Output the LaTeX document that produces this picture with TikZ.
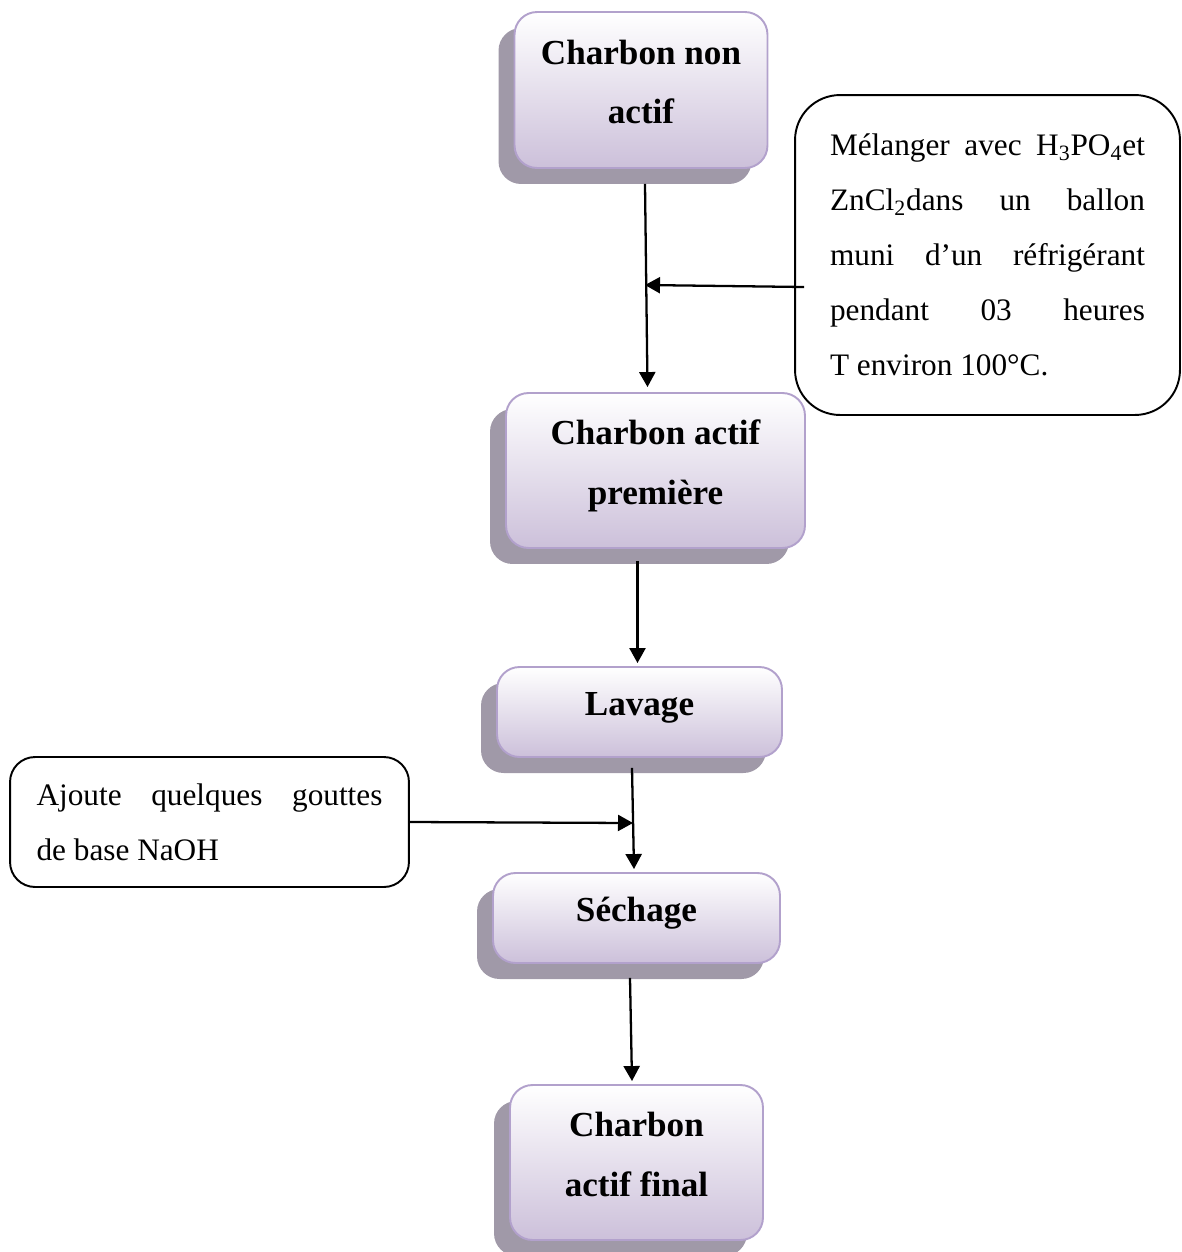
\documentclass[tikz,border=0pt]{standalone}
\usepackage{fontspec}
\setmainfont{Liberation Serif}
\usetikzlibrary{arrows.meta,shadows}
\definecolor{lavfill}{RGB}{204,192,218}
\definecolor{lavline}{RGB}{178,161,204}
\definecolor{shadowgray}{RGB}{160,153,168}
\begin{document}
\begin{tikzpicture}[x=0.02cm,y=-0.02cm,
  stepbox/.style={rectangle,rounded corners=0.45cm,draw=lavline,line width=1.1pt,
    top color=white,bottom color=lavfill,
    drop shadow={shadow xshift=-0.32cm,shadow yshift=-0.32cm,fill=shadowgray,opacity=1},
    align=center,font=\bfseries\fontsize{20}{34}\selectfont,inner sep=0pt,text depth=0.33cm},
  notebox/.style={rectangle,draw,line width=1.1pt,align=justify,
    font=\fontsize{17.8}{31.3}\selectfont,inner sep=0pt},
  flow/.style={line width=1.3pt,-{Triangle[length=0.3cm,width=0.32cm]}}]
\useasboundingbox (0,0) rectangle (1181,1252);

% main chain
\node[stepbox,minimum width=5.06cm,minimum height=3.12cm] (c1) at (641,90) {Charbon non\\actif};
\node[stepbox,minimum width=5.98cm,minimum height=3.1cm] (c2) at (655.5,470.5) {Charbon actif\\première};
\node[stepbox,minimum width=5.7cm,minimum height=1.8cm] (c3) at (639.5,712) {Lavage};
\node[stepbox,minimum width=5.74cm,minimum height=1.8cm] (c4) at (636.5,918) {Séchage};
\node[stepbox,minimum width=5.06cm,minimum height=3.1cm] (c5) at (636.5,1162.5) {Charbon\\actif final};

% side notes
\node[notebox,rounded corners=0.9cm,minimum width=7.7cm,minimum height=6.4cm,text width=6.3cm] (s1) at (987.5,255)
  {Mélanger avec H\textsubscript{3}PO\textsubscript{4}et\linebreak ZnCl\textsubscript{2}dans un ballon\linebreak muni d’un réfrigérant\linebreak pendant 03 heures\linebreak T environ 100°C.};
\node[notebox,rounded corners=0.5cm,minimum width=7.98cm,minimum height=2.6cm,text width=6.92cm] (s2) at (209.5,822)
  {Ajoute quelques gouttes\linebreak de base NaOH};

\coordinate (j1) at (645,285);
\coordinate (j2) at (633,823);

% arrows
\draw[flow] ([shift={(4,15)}]c1.south) -- ([shift={(-8,-5)}]c2.north);
\draw[flow] ([shift={(10,32)}]s1.west) -- (j1);
\draw[flow] ([shift={(-18,12)}]c2.south) -- ([shift={(-2,-3)}]c3.north);
\draw[flow] ([shift={(-7.5,10)}]c3.south) -- ([shift={(-2.5,-3)}]c4.north);
\draw[flow] (s2.east) -- (j2);
\draw[flow] ([shift={(-6.5,14)}]c4.south) -- ([shift={(-4.5,-3)}]c5.north);
\end{tikzpicture}
\end{document}
